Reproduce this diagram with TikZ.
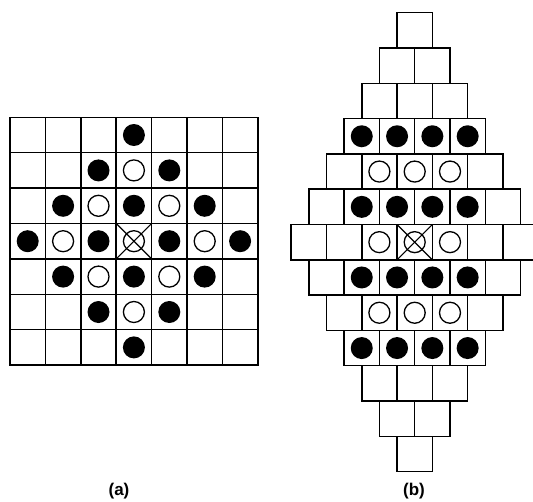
\documentclass[tikz,border=0pt]{standalone}
\usepackage{fontspec}
\setmainfont{Liberation Sans}
\begin{document}
\begin{tikzpicture}[x=1pt,y=-1pt]
\useasboundingbox (0,0) rectangle (533,501);
\clip (0,0) rectangle (533,501);
\tikzset{
  cellbox/.style={draw=black,line width=1.5pt},
  fullcirc/.style={fill=black},
  opencirc/.style={draw=black,line width=1.3pt,fill=white},
  crossline/.style={draw=black,line width=1.2pt},
  caption/.style={font=\bfseries\fontsize{17}{17}\selectfont}
}
% ---------- panel (a) ----------
\def\sa{35.4}
\foreach \r in {0,...,6}{
  \foreach \c in {0,...,6}{
    \pgfmathsetmacro\xx{10+\c*\sa}
    \pgfmathsetmacro\yy{117.3+\r*\sa}
    \draw[cellbox] (\xx,\yy) rectangle ++(\sa,\sa);
    \pgfmathtruncatemacro\d{abs(\r-3)+abs(\c-3)}
    \coordinate (ca) at (\xx+\sa/2,\yy+\sa/2);
    \ifnum\d=3 \fill[fullcirc] (ca) circle (11pt); \fi
    \ifnum\d=1 \fill[fullcirc] (ca) circle (11pt); \fi
    \ifnum\d=2 \draw[opencirc] (ca) circle (10.5pt); \fi
    \ifnum\d=0
      \draw[opencirc] (ca) circle (10.5pt);
      \draw[crossline] (\xx,\yy) -- ++(\sa,\sa);
      \draw[crossline] (\xx+\sa,\yy) -- ++(-\sa,\sa);
    \fi
  }
}
% ---------- panel (b) ----------
\def\sb{35.3}
\def\cx{414.7}
% row index / row contents (0 empty, 1 filled, 2 open, 3 crossed open)
\foreach \i/\cells in {
  0/{0},
  1/{0,0},
  2/{0,0,0},
  3/{1,1,1,1},
  4/{0,2,2,2,0},
  5/{0,1,1,1,1,0},
  6/{0,0,2,3,2,0,0},
  7/{0,1,1,1,1,0},
  8/{0,2,2,2,0},
  9/{1,1,1,1},
  10/{0,0,0},
  11/{0,0},
  12/{0}}{
  \pgfmathtruncatemacro\n{7-abs(\i-6)}
  \pgfmathsetmacro\yy{12.7+\i*\sb}
  \foreach \t [count=\k from 0] in \cells {
    \pgfmathsetmacro\xx{\cx-\n*\sb/2+\k*\sb}
    \draw[cellbox] (\xx,\yy) rectangle ++(\sb,\sb);
    \coordinate (cb) at (\xx+\sb/2,\yy+\sb/2);
    \ifnum\t=1 \fill[fullcirc] (cb) circle (11pt); \fi
    \ifnum\t=2 \draw[opencirc] (cb) circle (10.5pt); \fi
    \ifnum\t=3
      \draw[opencirc] (cb) circle (10.5pt);
      \draw[crossline] (\xx,\yy) -- ++(\sb,\sb);
      \draw[crossline] (\xx+\sb,\yy) -- ++(-\sb,\sb);
    \fi
  }
}
% ---------- captions ----------
\node[caption] (capa) at (119,491) {(a)};
\node[caption] (capb) at (414,491) {(b)};
\end{tikzpicture}
\end{document}
